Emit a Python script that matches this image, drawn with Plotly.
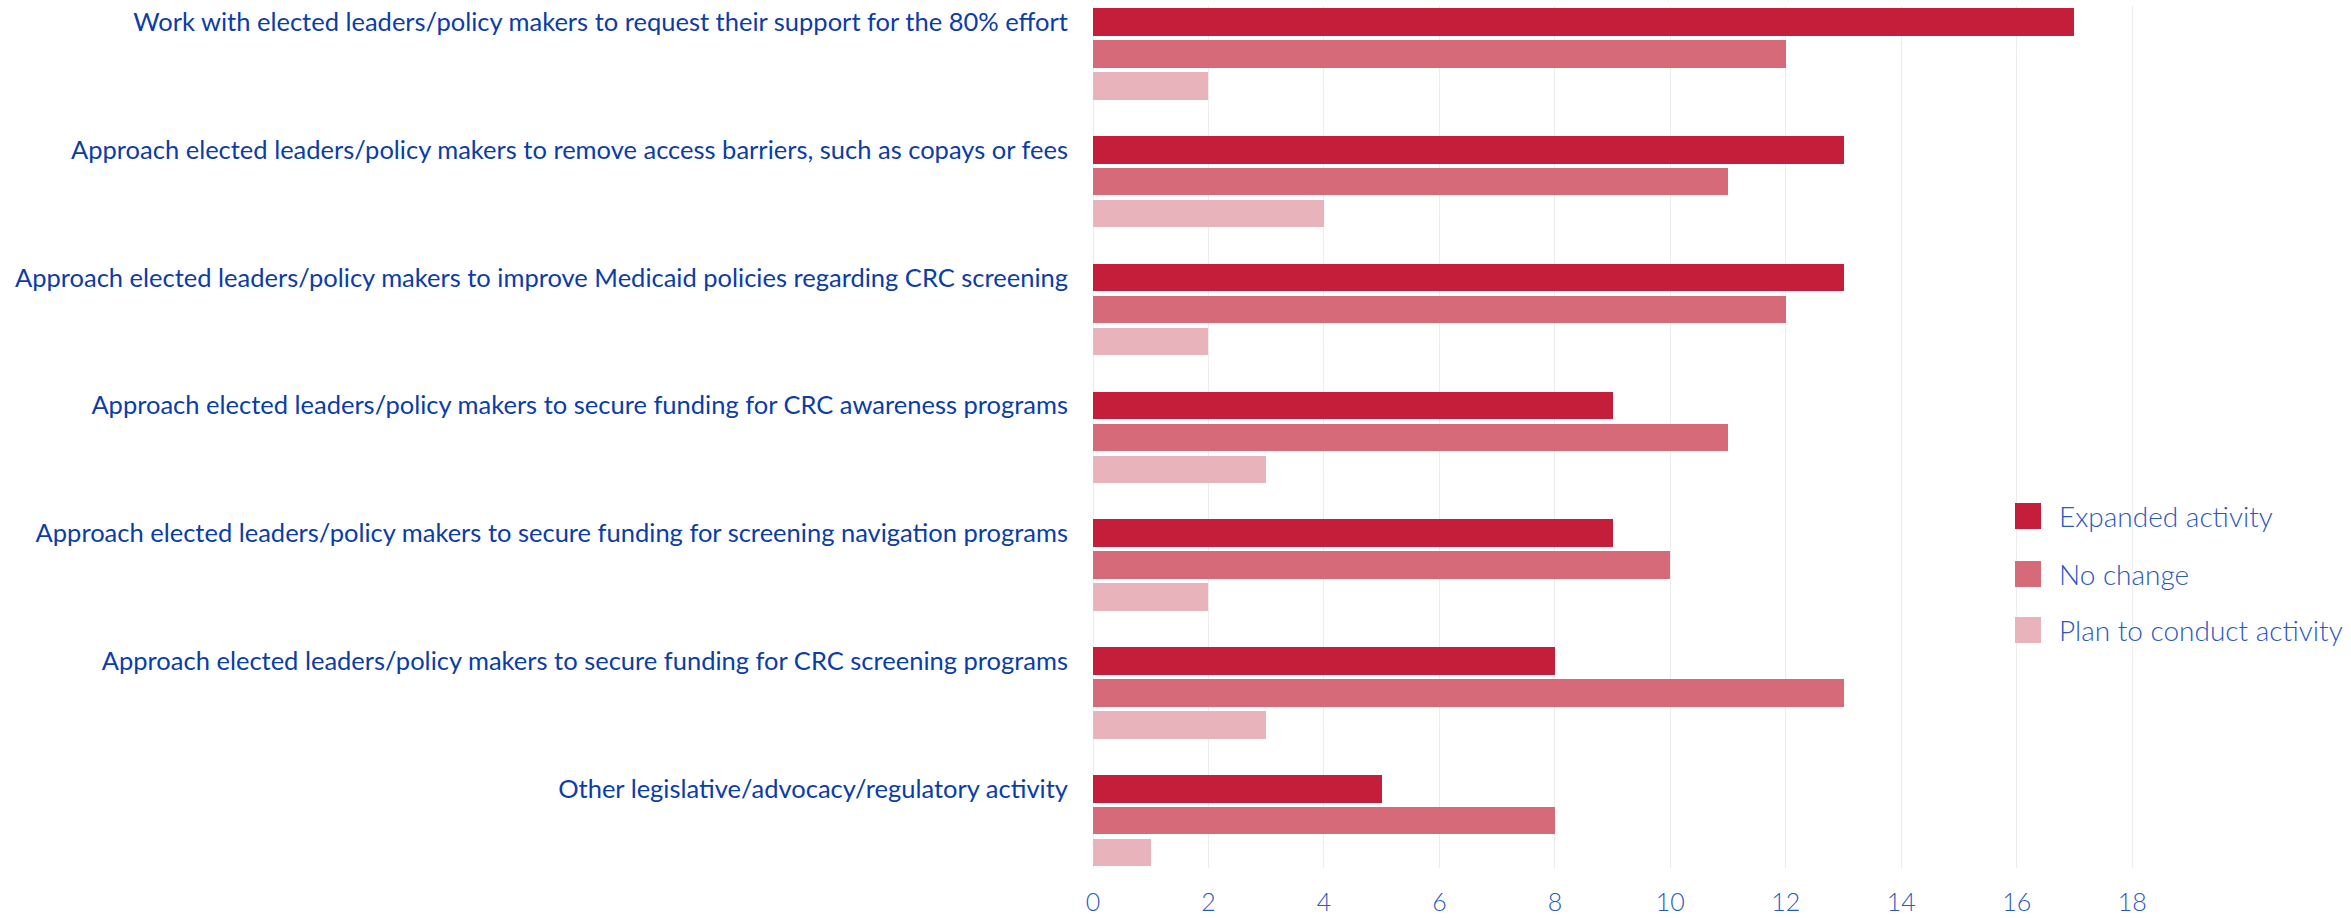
import plotly.graph_objects as go

categories = [
    "Work with elected leaders/policy makers to request their support for the 80% effort",
    "Approach elected leaders/policy makers to remove access barriers, such as copays or fees",
    "Approach elected leaders/policy makers to improve Medicaid policies regarding CRC screening",
    "Approach elected leaders/policy makers to secure funding for CRC awareness programs",
    "Approach elected leaders/policy makers to secure funding for screening navigation programs",
    "Approach elected leaders/policy makers to secure funding for CRC screening programs",
    "Other legislative/advocacy/regulatory activity",
]
expanded = [17, 13, 13, 9, 9, 8, 5]
no_change = [12, 11, 12, 11, 10, 13, 8]
plan = [2, 4, 2, 3, 2, 3, 1]
series_names = ["Expanded activity", "No change", "Plan to conduct activity"]
series_colors = ["#C41E3A", "#D76A78", "#E9B3BC"]
x_ticks = list(range(0, 19, 2))

W, H = 2351, 918
L, RPX, T, B = 1093, 2138, 6, 868
FONT = "Lato"
TEXT = "#0b3ca8"
TEXT_LIGHT = "#2a58c0"

bar_w = 0.215
offsets = [-0.1075, 0.1425, 0.3925]

fig = go.Figure()
for name, vals, col, off in zip(series_names, [expanded, no_change, plan], series_colors, offsets):
    fig.add_trace(go.Bar(
        y=categories, x=vals, orientation="h", name=name,
        marker=dict(color=col, line=dict(width=0)),
        width=bar_w, offset=off, showlegend=False,
    ))

def px_x(p):
    return (p - L) / (RPX - L)

def px_y(p):
    return (B - p) / (B - T)

shapes = []
annotations = []
leg_y = [516, 574, 630]
for name, col, yc in zip(series_names, series_colors, leg_y):
    shapes.append(dict(type="rect", xref="paper", yref="paper",
                       x0=px_x(2015), x1=px_x(2041), y0=px_y(yc + 13), y1=px_y(yc - 13),
                       fillcolor=col, line=dict(width=0)))
    annotations.append(dict(xref="paper", yref="paper", x=px_x(2057), y=px_y(yc),
                            xanchor="left", yanchor="middle", showarrow=False, text=name,
                            font=dict(family=FONT, size=28, color=TEXT_LIGHT, weight=300)))

fig.update_layout(
    width=W, height=H, autosize=False,
    margin=dict(l=L, r=W - RPX, t=T, b=H - B, pad=0, autoexpand=False),
    plot_bgcolor="white", paper_bgcolor="white",
    barmode="overlay", bargap=0,
    shapes=shapes, annotations=annotations,
    font=dict(family=FONT, color=TEXT),
)
fig.update_xaxes(
    range=[0, 18.1], tickvals=x_ticks, ticktext=[str(v) for v in x_ticks],
    showgrid=True, gridcolor="#ececec", gridwidth=1,
    zeroline=True, zerolinecolor="#ececec", zerolinewidth=1,
    showline=False, ticks="", ticklabelstandoff=17, automargin=False,
    tickfont=dict(family=FONT, size=25, color=TEXT_LIGHT, weight=300),
)
fig.update_yaxes(
    type="category", categoryorder="array", categoryarray=categories,
    range=[6.62, -0.125], showgrid=False, zeroline=False, showline=False,
    ticks="", ticklabelstandoff=24, automargin=False,
    tickfont=dict(family=FONT, size=25.5, color=TEXT),
)

fig.write_html(
    "out.html",
    config={"displayModeBar": False},
    post_script="document.body.style.margin='0';document.body.style.overflow='hidden';",
)
